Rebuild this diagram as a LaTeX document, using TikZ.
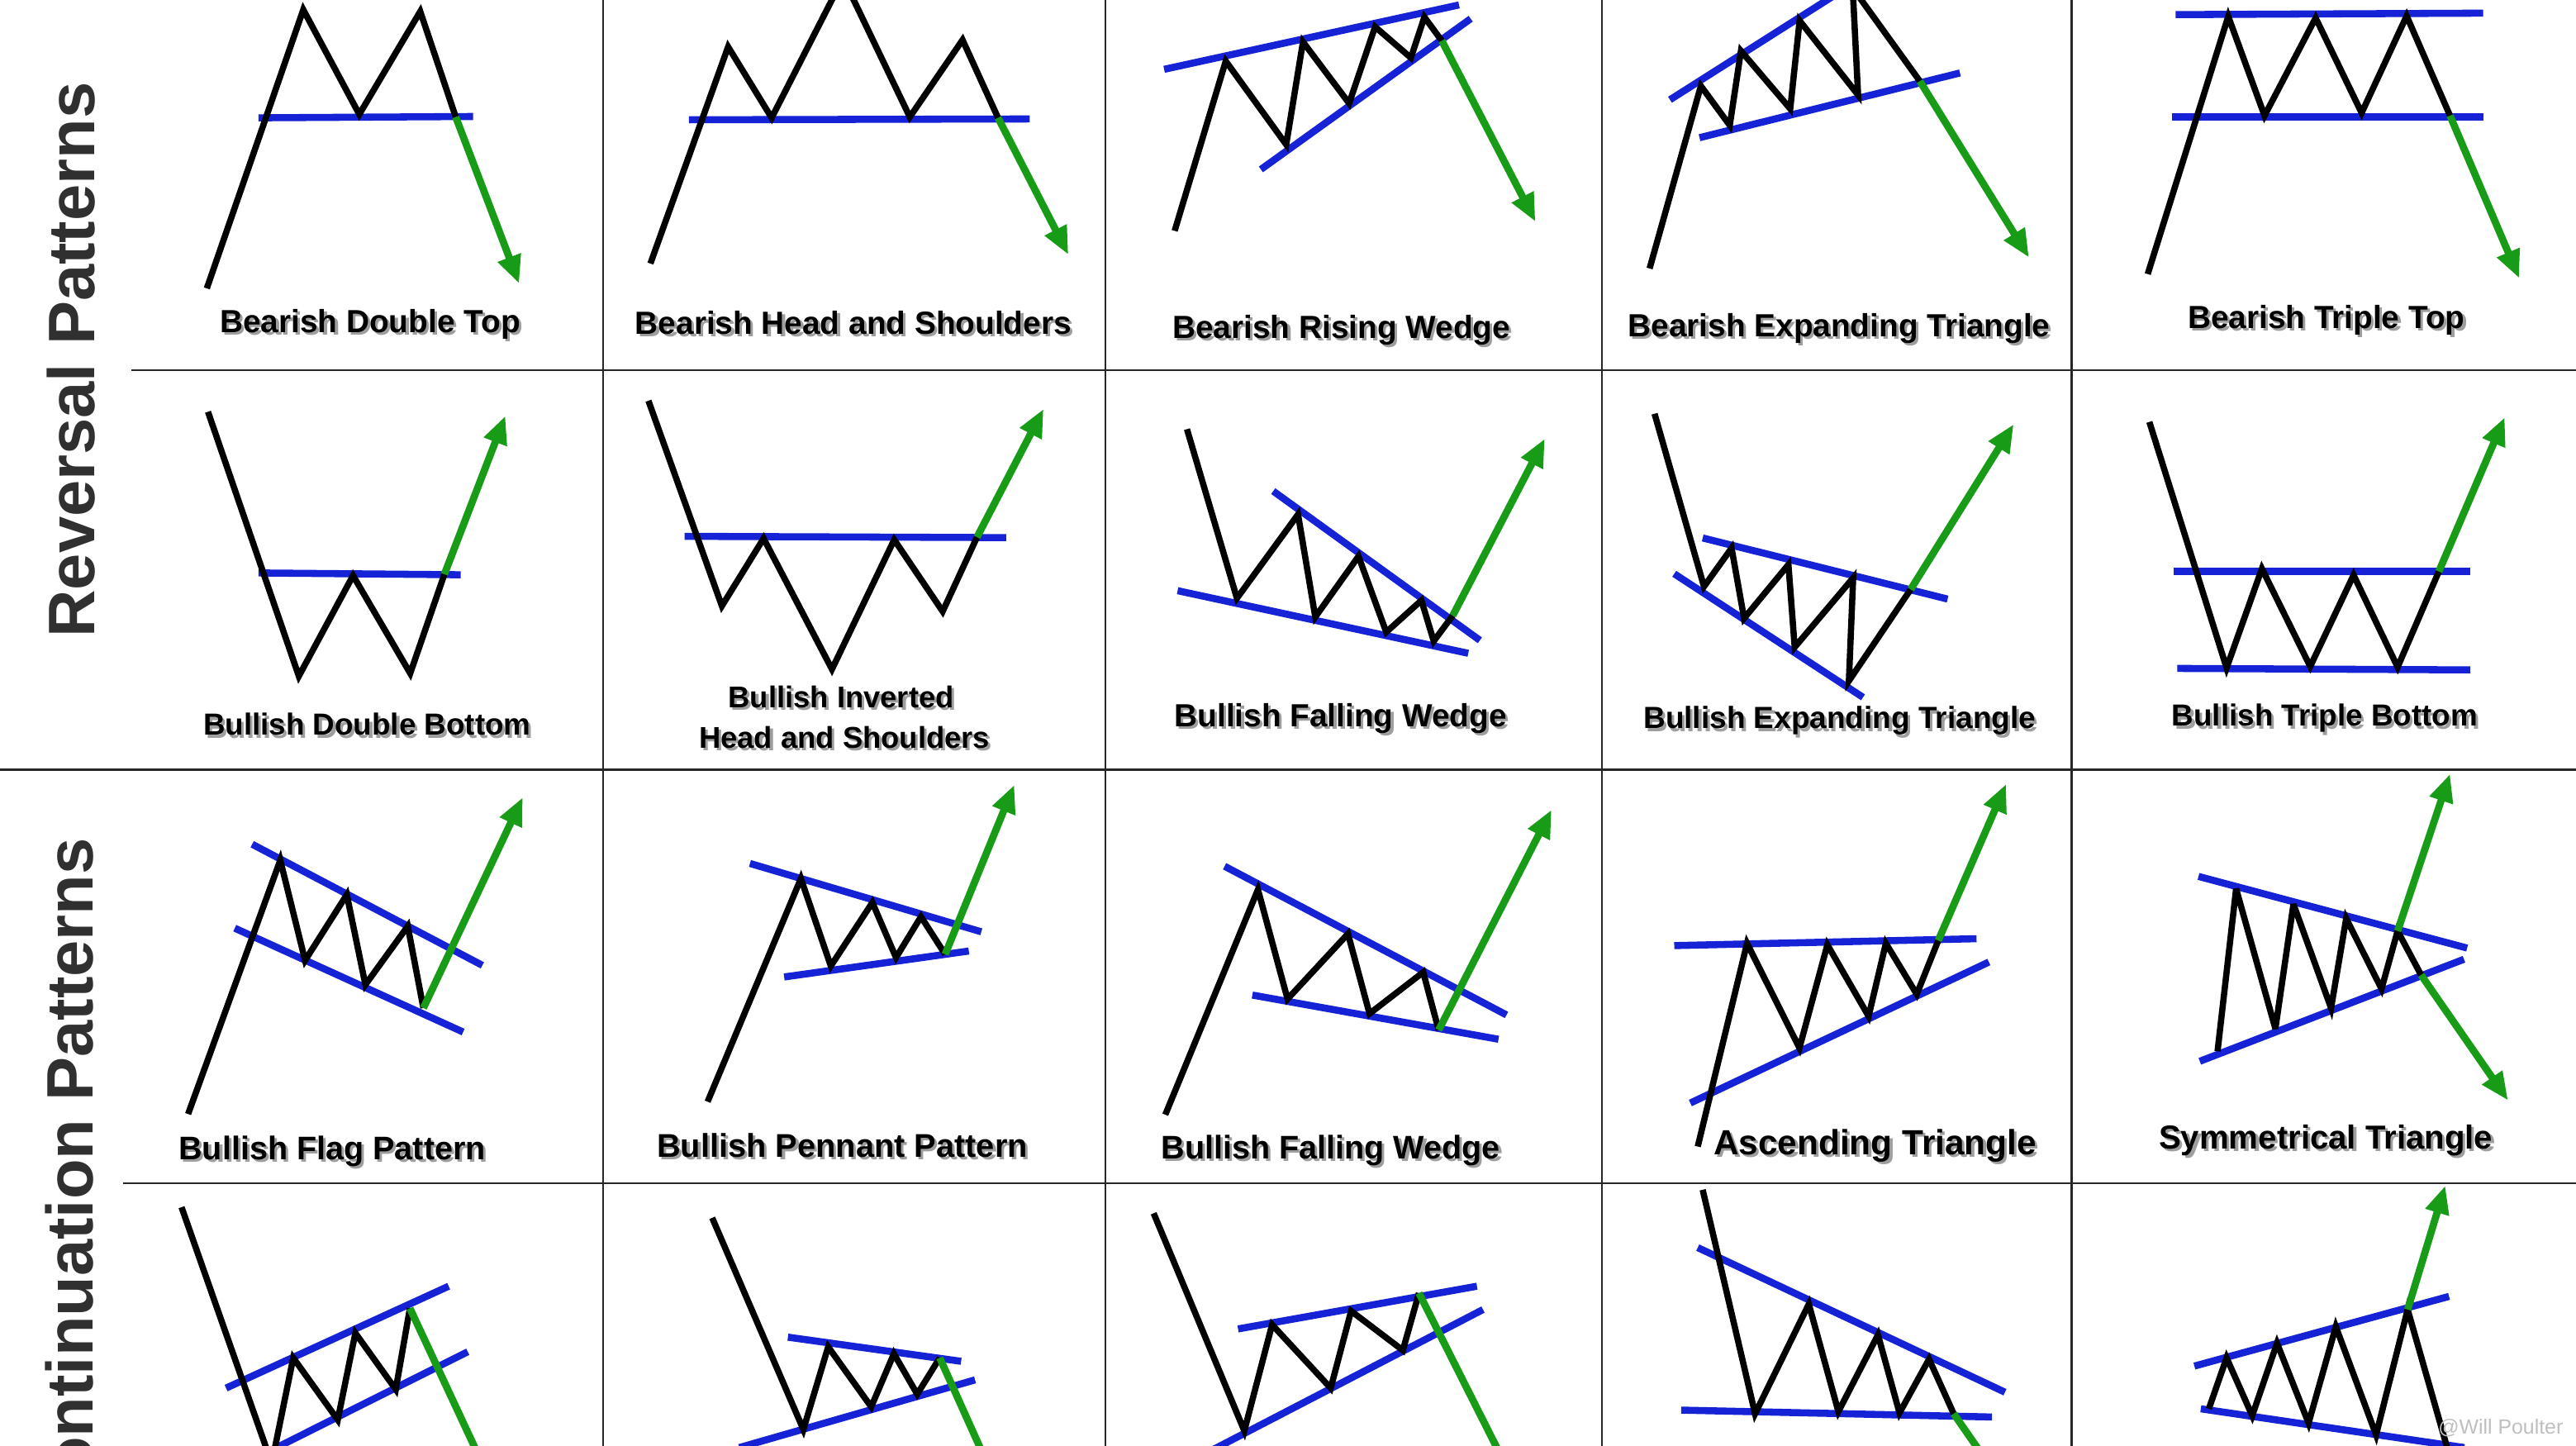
\documentclass[tikz,border=0pt]{standalone}
\usepackage{fontspec}
\setmainfont{Liberation Sans}
\usetikzlibrary{arrows.meta}
\definecolor{tblue}{RGB}{22,34,214}
\definecolor{tgreen}{RGB}{24,156,24}
\definecolor{sidegray}{RGB}{48,48,48}
\newcommand{\plab}[5][19.5]{%
  \node[lbl,text=black!38,font=\bfseries\fontsize{#1}{#1}\selectfont] (#2s) at ([xshift=1.6pt,yshift=-1.6pt]#3,#4) {#5};
  \node[lbl,font=\bfseries\fontsize{#1}{#1}\selectfont] (#2) at (#3,#4) {#5};}
\begin{document}
\begin{tikzpicture}[x=1pt,y=-1pt,
  price/.style={line width=3.8pt, black, line join=miter, miter limit=4},
  trend/.style={line width=4.3pt, tblue},
  brk/.style={line width=4.4pt, tgreen, -{Triangle[length=17pt,width=14pt]}},
  brkline/.style={line width=4.4pt, tgreen},
  lbl/.style={anchor=base, inner sep=0pt},
  sidelbl/.style={rotate=90, anchor=base, inner sep=0pt, text=sidegray, font=\bfseries\fontsize{40}{40}\selectfont},
  gridln/.style={line width=1.2pt, black!85}]
\useasboundingbox (0,0) rectangle (1568,880);
\fill[white] (0,0) rectangle (1568,880);
\begin{scope}
\clip (0,0) rectangle (1568,880);
% grid
\draw[gridln] (367,0) -- (367,880);
\draw[gridln] (673,0) -- (673,880);
\draw[gridln] (975,0) -- (975,880);
\draw[gridln] (1261,0) -- (1261,880);
\draw[gridln] (80,225.4) -- (1568,225.4);
\draw[gridln] (0,468.5) -- (1568,468.5);
\draw[gridln] (75,720) -- (1568,720);
% side labels
\node[sidelbl] (rev) at (57.5,219) {Reversal Patterns};
\node[sidelbl] (cont) at (56.5,719) {Continuation Patterns};

% ===== Row 1 =====
\draw[trend] (157.3,71.7) -- (288,70.9);
\draw[price] (125.9,175.5) -- (184.6,5.9) -- (218.7,69.6) -- (255.8,7.0) -- (277.4,71.2);
\draw[brk] (277.4,71.2) -- (316,172.6);
\plab{l11}{225.3}{202.5}{Bearish Double Top}

\draw[trend] (419.3,72.9) -- (626.8,72.4);
\draw[price] (395.9,160.4) -- (443.2,28.5) -- (469.7,71.7) -- (513.2,-13.4) -- (553.8,71.2) -- (585.9,24.3) -- (607.5,71.7);
\draw[brk] (607.5,71.7) -- (650.3,155);
\plab{l12}{519.4}{203.5}{Bearish Head and Shoulders}

\draw[trend] (708.6,42.2) -- (888.1,3.0);
\draw[trend] (767.5,103.1) -- (895.2,11.4);
\draw[price] (715,140.5) -- (746.1,37.2) -- (782.9,88) -- (793.1,25.5) -- (821.2,62.9) -- (837,16.3) -- (858.8,35.2) -- (867,10.4) -- (877.6,24.8);
\draw[brk] (877.6,24.8) -- (934.6,134.9);
\plab{l13}{816.5}{206}{Bearish Rising Wedge}

\draw[trend] (1016.5,60.7) -- (1120,-5);
\draw[trend] (1034.5,83.8) -- (1193,44.4);
\draw[price] (1004.1,163.4) -- (1035.3,52.3) -- (1052.9,76.3) -- (1059.7,31) -- (1089.7,66.2) -- (1095.4,12.6) -- (1131,57.8) -- (1127.7,-7.3) -- (1168.6,49.4);
\draw[brk] (1168.6,49.4) -- (1235,156.7);
\plab{l14}{1119.4}{205}{Bearish Expanding Triangle}

\draw[trend] (1324.3,8.9) -- (1511.5,8);
\draw[trend] (1322,71.2) -- (1511.5,71.2);
\draw[price] (1307.3,166.8) -- (1356.3,10) -- (1378.4,70.4) -- (1409.5,10.9) -- (1437.5,68.7) -- (1464.9,9.7) -- (1491.3,70.4);
\draw[brk] (1491.3,70.4) -- (1533.4,169.3);
\plab{l15}{1416}{200}{Bearish Triple Top}

% ===== Row 2 =====
\draw[trend] (157.3,348.7) -- (280.4,349.8);
\draw[price] (126.6,250.6) -- (181.9,411.5) -- (214.9,350.3) -- (249.7,409.8) -- (270.5,349.5);
\draw[brk] (270.5,349.5) -- (307.6,253.1);
\plab[18.5]{l21}{223.4}{447.5}{Bullish Double Bottom}

\draw[trend] (416.7,326.4) -- (612.4,327.2);
\draw[price] (394.7,243.9) -- (439.4,368.8) -- (464.8,327.7) -- (506.4,407.3) -- (544.3,328.5) -- (573.8,372.1) -- (594.7,326.9);
\draw[brk] (594.7,326.9) -- (635.2,248.9);
\plab[18.3]{l22a}{512}{430.5}{Bullish Inverted}
\plab[18.3]{l22b}{514}{455.5}{Head and Shoulders}

\draw[trend] (775,298.9) -- (900.8,389.7);
\draw[trend] (716.8,359.5) -- (893.7,397.6);
\draw[price] (722.5,261.2) -- (752.9,364.1) -- (790.1,313.1) -- (800.6,375.5) -- (826.9,338.6) -- (843.8,384.7) -- (865.2,365.4) -- (872.7,390.2) -- (884.3,374.6);
\draw[brk] (884.3,374.6) -- (940.3,267);
\plab{l23}{816}{442.3}{Bullish Falling Wedge}

\draw[trend] (1036.4,327.4) -- (1185.5,364.6);
\draw[trend] (1019.1,349.2) -- (1134,424.4);
\draw[price] (1007.1,251.8) -- (1037.2,357) -- (1054,333.6) -- (1061.6,376.3) -- (1088.6,343.6) -- (1092.4,393.9) -- (1128,351.7) -- (1125.4,414.4) -- (1163,358.7);
\draw[brk] (1163,358.7) -- (1225.7,258.2);
\plab[18.6]{l24}{1119.8}{443.5}{Bullish Expanding Triangle}

\draw[trend] (1323,347.8) -- (1503.7,347.8);
\draw[trend] (1325.3,406.8) -- (1503.7,407.7);
\draw[price] (1308.3,256.8) -- (1355.3,406.5) -- (1376.8,346.1) -- (1406.2,405.6) -- (1432.6,350) -- (1459.4,406) -- (1484.5,347.8);
\draw[brk] (1484.5,347.8) -- (1524.6,254);
\plab[18.5]{l25}{1415}{442}{Bullish Triple Bottom}

% ===== Row 3 =====
\draw[trend] (153.5,513.8) -- (293.6,587.5);
\draw[trend] (142.9,564.9) -- (281.9,628.1);
\draw[price] (114.5,678) -- (170.6,523.5) -- (185.7,584.5) -- (211.1,544.5) -- (222.4,599.3) -- (248.2,563.7) -- (257.7,613.5);
\draw[brk] (257.7,613.5) -- (318.2,485.3);
\plab[19.9]{l31}{202.2}{705.8}{Bullish Flag Pattern}

\draw[trend] (456.5,525.5) -- (597.3,567.1);
\draw[trend] (477.3,594.6) -- (589.7,578.8);
\draw[price] (430.7,670.5) -- (487.5,534.7) -- (505.7,587.9) -- (531,549.3) -- (545.4,582.8) -- (560.6,557.9) -- (575.3,580.8);
\draw[brk] (575.3,580.8) -- (617.4,477.7);
\plab[20]{l32}{512.7}{704.3}{Bullish Pennant Pattern}

\draw[trend] (745.4,527.2) -- (917,617.7);
\draw[trend] (762.3,605.6) -- (912.1,632.5);
\draw[price] (709.3,678.4) -- (765.7,541.4) -- (783.7,608) -- (820.5,568.3) -- (833.6,616.9) -- (866.3,591.7) -- (875.7,626.9);
\draw[brk] (875.7,626.9) -- (944.4,492.8);
\plab[19.9]{l33}{810}{705.3}{Bullish Falling Wedge}

\draw[trend] (1019.1,575.5) -- (1203.1,571.3);
\draw[trend] (1028.9,671.3) -- (1210.6,585.5);
\draw[price] (1033.4,697.8) -- (1063.4,574.1) -- (1095.3,637.8) -- (1112.3,575) -- (1137.4,618.5) -- (1147.9,574.1) -- (1166.7,605.1) -- (1179.8,572.4);
\draw[brk] (1179.8,572.4) -- (1221.1,477.2);
\plab[21.3]{l34}{1141.3}{702.6}{Ascending Triangle}

\draw[trend] (1338.2,533.4) -- (1501.7,577);
\draw[trend] (1339,645.9) -- (1499.8,583.8);
\draw[price] (1349.8,639.8) -- (1361.1,540.9) -- (1385,626.1) -- (1396,550.3) -- (1418.9,613.5) -- (1428.1,559) -- (1449.6,601.8) -- (1459.4,566.6) -- (1473.7,593.4);
\draw[brk] (1459.4,566.6) -- (1491.3,471);
\draw[brk] (1473.7,593.4) -- (1526.6,669.7);
\plab[20.2]{l35}{1415.7}{699.2}{Symmetrical Triangle}

% ===== Row 4 (cut off) =====
\draw[trend] (137.6,844.8) -- (273.1,782.8);
\draw[trend] (160,885.2) -- (284.7,822.7);
\draw[price] (110.5,734.7) -- (165.4,890.7) -- (178.5,826.4) -- (205.6,864.1) -- (216.3,811.3) -- (240.9,845.6) -- (249.5,796.2);
\draw[brkline] (249.5,796.2) -- (292.3,888);

\draw[trend] (479.6,813.8) -- (585,828.5);
\draw[trend] (450,881) -- (593.5,839.8);
\draw[price] (433.5,741.2) -- (489,870) -- (504.1,819.7) -- (530.3,856.2) -- (544.1,823.9) -- (558.3,848.5) -- (572,826.4);
\draw[brkline] (572,826.4) -- (598.8,886);

\draw[trend] (753.6,808.8) -- (899,782.8);
\draw[trend] (735,884) -- (902.7,797);
\draw[price] (702.2,738.4) -- (757.4,870.8) -- (774.3,806.2) -- (810,844.8) -- (822.4,797.9) -- (853.9,821.8) -- (863.7,787);
\draw[brkline] (863.7,787) -- (913.6,886);

\draw[trend] (1033.4,759.3) -- (1220.4,847.3);
\draw[trend] (1023.3,858.2) -- (1212.5,862.4);
\draw[price] (1036.4,724.1) -- (1068.3,860.4) -- (1101,793.7) -- (1119,859.1) -- (1143.1,812.4) -- (1156.2,859.9) -- (1174.2,827.2) -- (1189.2,860.4);
\draw[brkline] (1189.2,860.4) -- (1207,886);

\draw[trend] (1335.7,831.4) -- (1490.7,789);
\draw[trend] (1339.6,857.4) -- (1500,881);
\draw[price] (1344.5,857.4) -- (1355.3,826.4) -- (1370.9,861.6) -- (1386,817.5) -- (1405.2,866.1) -- (1421.8,807.4) -- (1446.3,873.3) -- (1465.5,797) -- (1491,886);
\draw[brk] (1465.5,797) -- (1488.4,721.6);
\node[anchor=base west, inner sep=0pt, text=black!25, font=\fontsize{12.5}{12.5}\selectfont] (wm) at (1484,873) {@Will Poulter};
\end{scope}
\end{tikzpicture}
\end{document}
